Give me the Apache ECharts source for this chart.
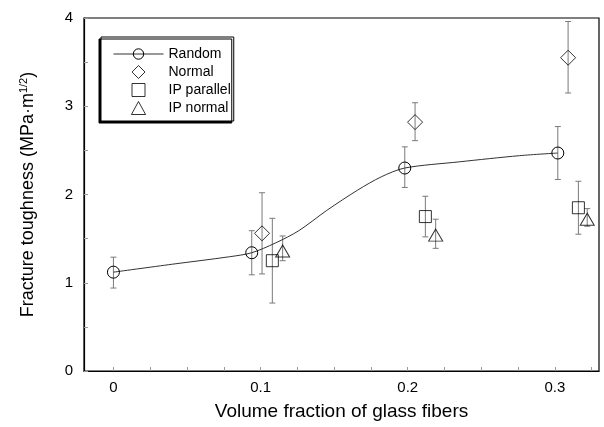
<!DOCTYPE html>
<html><head><meta charset="utf-8">
<script src="https://cdn.jsdelivr.net/npm/echarts@6/dist/echarts.min.js"></script>
<style>html,body{margin:0;padding:0;background:#fff}#c{width:604px;height:427px}</style>
</head><body><div id="c"></div>
<script>
// Random (measured)
const randomX = [0, 0.094, 0.198, 0.302];
const randomY = [1.12, 1.34, 2.30, 2.47];
const randomLo = [0.94, 1.09, 2.08, 2.17];
const randomHi = [1.29, 1.59, 2.54, 2.77];
const curveX = [0.04, 0.079, 0.11, 0.126, 0.145, 0.166, 0.182, 0.235, 0.276];
const curveY = [1.21, 1.295, 1.45, 1.59, 1.82, 2.05, 2.20, 2.37, 2.44];
// Normal
const normalX = [0.101, 0.205, 0.309];
const normalY = [1.56, 2.82, 3.55];
const normalLo = [1.10, 2.61, 3.15];
const normalHi = [2.02, 3.04, 3.96];
// IP parallel
const ipParX = [0.108, 0.212, 0.316];
const ipParY = [1.25, 1.75, 1.85];
const ipParLo = [0.77, 1.52, 1.55];
const ipParHi = [1.73, 1.98, 2.15];
// IP normal
const ipNorX = [0.115, 0.219, 0.322];
const ipNorY = [1.36, 1.54, 1.72];
const ipNorLo = [1.25, 1.39, 1.64];
const ipNorHi = [1.53, 1.72, 1.84];
// axis ticks
const xTickLabels = [0, 0.1, 0.2, 0.3];
const xMinorTicks = [0, 0.025, 0.05, 0.075, 0.1, 0.125, 0.15, 0.175, 0.2, 0.225, 0.25, 0.275, 0.3, 0.325];

const FONT = 'Liberation Sans, Arial, sans-serif';

const randomLine = [];
randomX.forEach((x, i) => randomLine.push({ value: [x, randomY[i]], symbol: 'circle' }));
curveX.forEach((x, i) => randomLine.push({ value: [x, curveY[i]], symbol: 'none' }));
randomLine.sort((a, b) => a.value[0] - b.value[0]);

function errData(xs, lo, hi) { return xs.map((x, i) => [x, lo[i], hi[i]]); }
function errRender(params, api) {
  const x = api.value(0);
  const a = api.coord([x, api.value(1)]);
  const b = api.coord([x, api.value(2)]);
  const w = 3;
  const st = { stroke: '#7a7a7a', lineWidth: 1 };
  return { type: 'group', children: [
    { type: 'line', shape: { x1: a[0], y1: a[1], x2: b[0], y2: b[1] }, style: st },
    { type: 'line', shape: { x1: a[0] - w, y1: a[1], x2: a[0] + w, y2: a[1] }, style: st },
    { type: 'line', shape: { x1: b[0] - w, y1: b[1], x2: b[0] + w, y2: b[1] }, style: st }
  ]};
}
const hollow = { color: 'rgba(255,255,255,0)', borderColor: '#000', borderWidth: 1 };

const chart = echarts.init(document.getElementById('c'), null, { renderer: 'canvas' });
chart.setOption({
  animation: false,
  backgroundColor: '#fff',
  textStyle: { fontFamily: FONT },
  grid: { left: 84, right: 5, top: 18, bottom: 56, show: true, borderColor: '#000', borderWidth: 1.2 },
  legend: {
    orient: 'vertical', left: 101, top: 37,
    padding: [10, 3, 6, 12], itemGap: 4, itemWidth: 50, itemHeight: 13,
    symbolKeepAspect: true,
    backgroundColor: '#fff', borderColor: '#000', borderWidth: 1,
    shadowColor: '#000', shadowBlur: 0, shadowOffsetX: -2, shadowOffsetY: 2,
    itemStyle: { borderWidth: 1 },
    lineStyle: { width: 1 },
    textStyle: { fontSize: 14, color: '#000', fontFamily: FONT },
    data: [
      { name: 'Random' },
      { name: 'Normal', icon: 'path://M6,0L12,6L6,12L0,6Z' },
      { name: 'IP parallel', icon: 'path://M0,0H10V10H0Z' },
      { name: 'IP normal', icon: 'path://M6,0L12,11H0Z' }
    ]
  },
  xAxis: {
    type: 'value', min: -0.02, max: 0.33,
    name: 'Volume fraction of glass fibers', nameLocation: 'middle', nameGap: 31,
    nameTextStyle: { fontSize: 19, color: '#000', fontFamily: FONT },
    axisLine: { show: true, onZero: false, lineStyle: { color: '#000', width: 1.2 } },
    axisTick: { show: true, inside: true, length: 4, customValues: xMinorTicks, lineStyle: { color: '#999' } },
    axisLabel: { customValues: xTickLabels, fontSize: 15, color: '#000', margin: 9, fontFamily: FONT,
      formatter: v => (Math.round(v * 10) / 10).toString() },
    splitLine: { show: false }
  },
  yAxis: {
    type: 'value', min: 0, max: 4, interval: 1,
    name: '{a|Fracture toughness (MPa·m}{s|1/2}{a|)}', nameLocation: 'middle', nameGap: 46,
    nameTextStyle: { fontSize: 18, color: '#000', fontFamily: FONT,
      rich: { a: { fontSize: 18, color: '#000', fontFamily: FONT },
              s: { fontSize: 11, color: '#000', fontFamily: FONT, verticalAlign: 'top', padding: [0, 0, 9, 0] } } },
    axisLine: { show: true, onZero: false, lineStyle: { color: '#000', width: 1.2 } },
    axisTick: { show: true, inside: true, length: 4, lineStyle: { color: '#999' } },
    minorTick: { show: true, splitNumber: 2, length: 4, lineStyle: { color: '#999' } },
    axisLabel: { fontSize: 15, color: '#000', margin: 11, fontFamily: FONT },
    splitLine: { show: false }
  },
  series: [
    { type: 'custom', renderItem: errRender, data: errData(randomX, randomLo, randomHi), z: 1, silent: true },
    { type: 'custom', renderItem: errRender, data: errData(normalX, normalLo, normalHi), z: 1, silent: true },
    { type: 'custom', renderItem: errRender, data: errData(ipParX, ipParLo, ipParHi), z: 1, silent: true },
    { type: 'custom', renderItem: errRender, data: errData(ipNorX, ipNorLo, ipNorHi), z: 1, silent: true },
    { name: 'Random', type: 'line', smooth: 0.3, symbol: 'circle', symbolSize: 12, showAllSymbol: true,
      lineStyle: { color: '#333', width: 1 }, itemStyle: hollow, data: randomLine, z: 3 },
    { name: 'Normal', type: 'scatter', symbol: 'diamond', symbolSize: 15, itemStyle: hollow,
      data: normalX.map((x, i) => [x, normalY[i]]), z: 3 },
    { name: 'IP parallel', type: 'scatter', symbol: 'rect', symbolSize: 12, itemStyle: hollow,
      data: ipParX.map((x, i) => [x, ipParY[i]]), z: 3 },
    { name: 'IP normal', type: 'scatter', symbol: 'triangle', symbolSize: [14, 12], itemStyle: hollow,
      data: ipNorX.map((x, i) => [x, ipNorY[i]]), z: 3 }
  ]
});
</script></body></html>
